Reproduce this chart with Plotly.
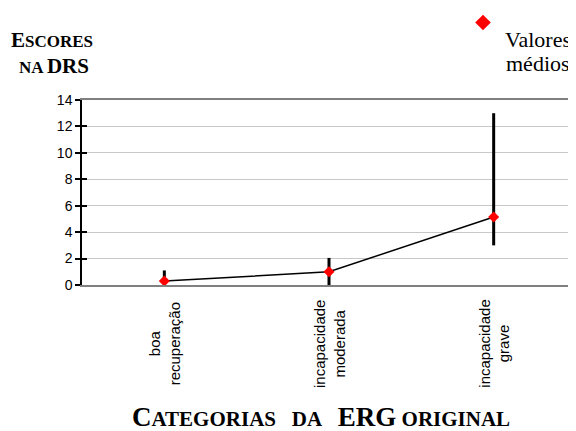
import plotly.graph_objects as go

categories = ["boa<br>recuperação", "incapacidade<br>moderada", "incapacidade<br>grave"]
means = [0.3, 1.0, 5.15]
upper = [1.1, 2.05, 13.0]
lower = [0.0, 0.0, 3.0]
y_ticks = [0, 2, 4, 6, 8, 10, 12, 14]

cat_x = list(range(len(categories)))
err_plus = [u - m for u, m in zip(upper, means)]
err_minus = [m - l for m, l in zip(means, lower)]

SERIF = "Liberation Serif"
SANS = "Liberation Sans"

OFF = 8  # page body margin
W, H = 576 - OFF, 431 - OFF
ml, mr, mt, mb = 82 - OFF, 0, 100 - OFF, 146
pw, ph = W - ml - mr, H - mt - mb


def px(x):
    return (x - OFF - ml) / pw


def py(y):
    return (H - mb - (y - OFF)) / ph


fig = go.Figure()
fig.add_trace(go.Scatter(
    x=cat_x, y=means, mode="lines",
    line=dict(color="black", width=1.5),
    showlegend=False, hoverinfo="skip",
))
fig.add_trace(go.Scatter(
    x=cat_x, y=means, mode="markers",
    marker=dict(symbol="diamond", color="#ff0000", size=8.5),
    error_y=dict(type="data", symmetric=False, array=err_plus, arrayminus=err_minus,
                 color="black", thickness=3, width=0),
    name=" ", showlegend=True,
))

annotations = []
for i, c in enumerate(categories):
    annotations.append(dict(x=i, xref="x", y=py(344), yref="paper", text=c, textangle=-90,
                            showarrow=False, align="center", xanchor="center", yanchor="middle",
                            font=dict(family=SANS, size=15, color="black")))


def sc(big, small, bs, ss):
    return f"<span style='font-size:{bs}px'>{big}</span><span style='font-size:{ss}px'>{small}</span>"


annotations += [
    dict(x=px(52), y=py(40), xref="paper", yref="paper", showarrow=False,
         text="<b>" + sc("E", "SCORES", 21, 17) + "</b>", xanchor="center", yanchor="middle",
         font=dict(family=SERIF, size=17, color="black")),
    dict(x=px(54), y=py(66), xref="paper", yref="paper", showarrow=False,
         text="<b><span style='font-size:17px'>NA </span><span style='font-size:21px'>DRS</span></b>",
         xanchor="center", yanchor="middle",
         font=dict(family=SERIF, size=17, color="black")),
    dict(x=px(538), y=py(39), xref="paper", yref="paper", showarrow=False,
         text="Valores", xanchor="center", yanchor="middle",
         font=dict(family=SERIF, size=22, color="black")),
    dict(x=px(538), y=py(63), xref="paper", yref="paper", showarrow=False,
         text="médios", xanchor="center", yanchor="middle",
         font=dict(family=SERIF, size=22, color="black")),
    dict(x=px(321), y=py(417), xref="paper", yref="paper", showarrow=False,
         text="<b>" + sc("C", "ATEGORIAS", 27, 21) + "<span style='font-size:21px'>\u00a0\u00a0 DA\u00a0\u00a0 </span>"
              + "<span style='font-size:27px'>ERG</span><span style='font-size:21px'> ORIGINAL</span></b>",
         xanchor="center", yanchor="middle",
         font=dict(family=SERIF, size=21, color="black")),
]

fig.update_layout(
    width=W, height=H,
    margin=dict(l=ml, r=mr, t=mt, b=mb, pad=0, autoexpand=False),
    paper_bgcolor="white", plot_bgcolor="white",
    annotations=annotations,
    showlegend=True,
    legend=dict(x=px(463), y=py(8), xref="paper", yref="paper", xanchor="left", yanchor="top",
                bgcolor="rgba(0,0,0,0)", font=dict(size=8), itemwidth=30,
                itemsizing="constant", tracegroupgap=0),
    xaxis=dict(range=[-0.5, 2.5], showticklabels=False, ticks="", showgrid=False,
               showline=True, linecolor="#808080", linewidth=1.5, mirror=True, zeroline=False,
               fixedrange=True),
    yaxis=dict(range=[0, 14], tickvals=y_ticks, ticktext=[str(v) for v in y_ticks],
               showgrid=True, gridcolor="#c8c8c8", gridwidth=1,
               showline=True, linecolor="black", linewidth=1.5,
               ticks="outside", ticklen=5, tickwidth=1.5, tickcolor="black",
               tickfont=dict(family=SANS, size=14, color="black"), zeroline=False),
    yaxis2=dict(range=[0, 14], tickvals=y_ticks, overlaying="y", side="left",
                showticklabels=False, showgrid=False, showline=False,
                ticks="inside", ticklen=5, tickwidth=1.5, tickcolor="black", zeroline=False),
)
fig.add_trace(go.Scatter(x=[None], y=[None], yaxis="y2", showlegend=False, hoverinfo="skip"))

fig.write_html("out.html")
